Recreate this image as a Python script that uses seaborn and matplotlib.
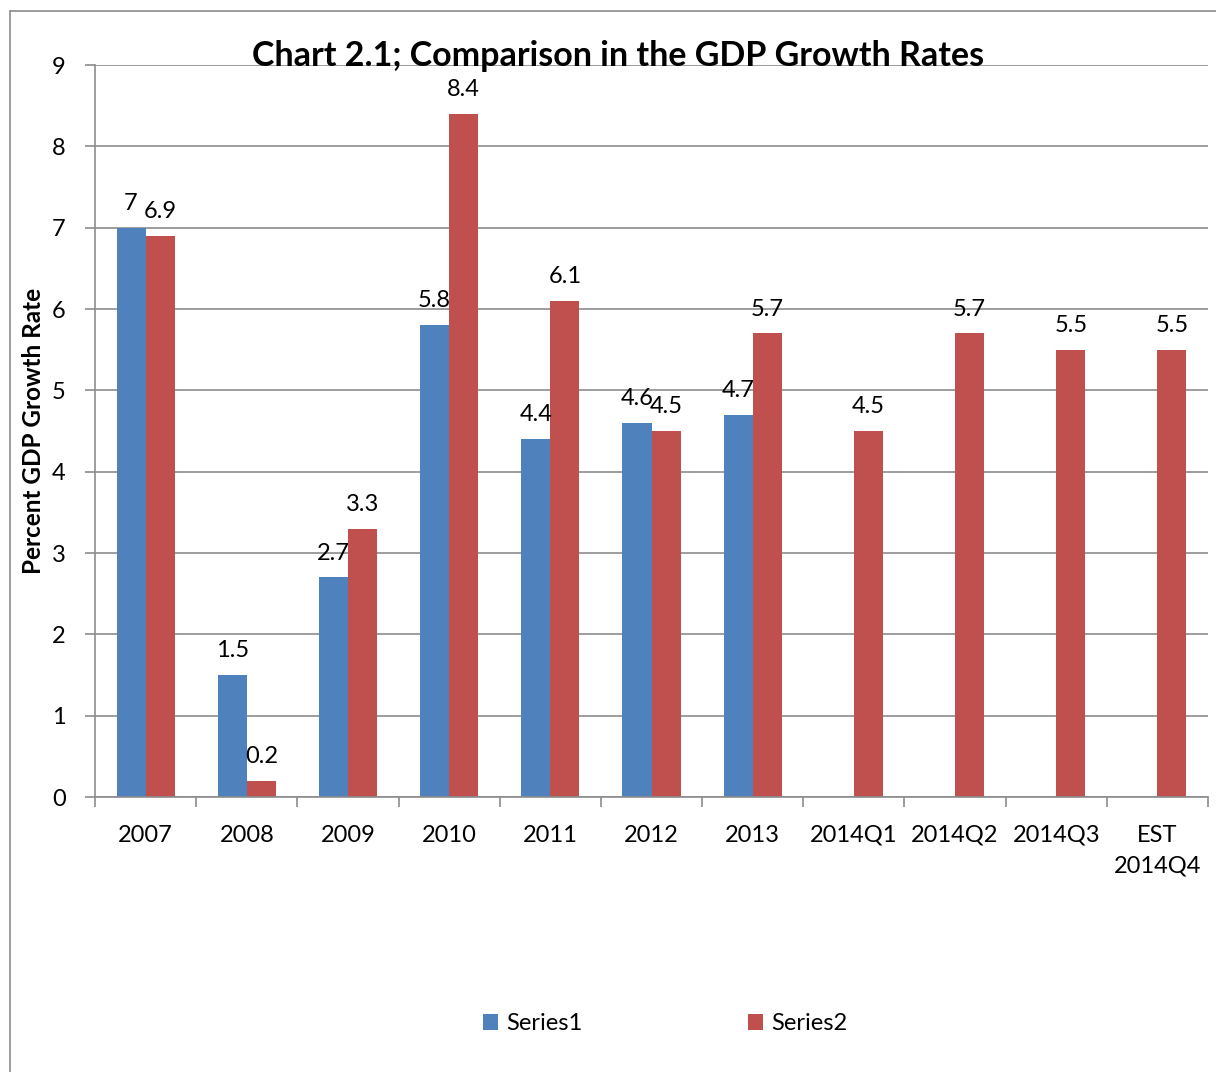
import numpy as np
import pandas as pd
import matplotlib
matplotlib.use("Agg")
import matplotlib.pyplot as plt
import seaborn as sns
from matplotlib.patches import Patch
from matplotlib.lines import Line2D

categories = ["2007", "2008", "2009", "2010", "2011", "2012", "2013",
              "2014Q1", "2014Q2", "2014Q3", "EST\n2014Q4"]
series1 = [7, 1.5, 2.7, 5.8, 4.4, 4.6, 4.7, np.nan, np.nan, np.nan, np.nan]
series2 = [6.9, 0.2, 3.3, 8.4, 6.1, 4.5, 5.7, 4.5, 5.7, 5.5, 5.5]
series_names = ["Series1", "Series2"]
colors = ["#4F81BD", "#C0504D"]

sns.set_style("white")
plt.rcParams['font.family'] = ['Lato', 'DejaVu Sans']
plt.rcParams['text.color'] = 'black'
plt.rcParams['axes.labelcolor'] = 'black'
plt.rcParams['xtick.labelcolor'] = 'black'
plt.rcParams['ytick.labelcolor'] = 'black'

df = pd.DataFrame({
    "Period": categories * 2,
    "Rate": series1 + series2,
    "Series": [series_names[0]] * len(categories) + [series_names[1]] * len(categories),
})

fig = plt.figure(figsize=(12.16, 10.72), dpi=100)
ax = fig.add_axes([95/1216, 275/1072, (1208-95)/1216, (797-65)/1072])

sns.barplot(data=df, x="Period", y="Rate", hue="Series", order=categories,
            hue_order=series_names, palette=colors, saturation=1,
            width=0.575, linewidth=0, ax=ax, legend=False, errorbar=None)

for cont in ax.containers:
    ax.bar_label(cont, fmt="%g", padding=10, fontsize=17, color="black")

ax.set_ylim(0, 9)
ax.set_xlim(-0.5, len(categories) - 0.5)
ax.set_yticks(range(0, 10))
ax.yaxis.grid(True, color="#8c8c8c", linewidth=1.2)
ax.set_axisbelow(True)
for s in ["top", "right"]:
    ax.spines[s].set_visible(False)
for s in ["left", "bottom"]:
    ax.spines[s].set_color("#8c8c8c")
    ax.spines[s].set_linewidth(1.2)

ax.tick_params(axis="y", which="major", length=7, width=1.2, color="#8c8c8c",
               labelcolor="black", labelsize=17, pad=14, left=True)
ax.set_xticks(range(len(categories)))
ax.set_xticklabels(categories, fontsize=17, linespacing=1.6)
ax.set_xticks(np.arange(-0.5, len(categories), 1), minor=True)
ax.tick_params(axis="x", which="major", length=0, pad=20, labelsize=17, labelcolor="black")
ax.tick_params(axis="x", which="minor", length=7, width=1.2, color="#8c8c8c", bottom=True)
for lab in ax.get_xticklabels():
    lab.set_verticalalignment("top")
ax.set_xlabel("")
ax.set_ylabel("Percent GDP Growth Rate", fontsize=17.5, fontweight="bold", labelpad=5,
              color="black")

fig.text(618/1216, 1 - 56/1072, "Chart 2.1; Comparison in the GDP Growth Rates",
         ha="center", va="center", fontsize=24.5, fontweight="bold", color="black")

handles = [Patch(facecolor=c, edgecolor="none", label=n) for c, n in zip(colors, series_names)]
fig.legend(handles=handles, loc="center", bbox_to_anchor=(665/1216, 1 - 1024/1072),
           ncol=2, frameon=False, fontsize=17, handlelength=0.65, handleheight=0.65,
           handletextpad=0.35, columnspacing=7, labelcolor="black")

# chart frame
fig.add_artist(Line2D([10/1216, 10/1216], [0, 1 - 11/1072], transform=fig.transFigure,
                      color="#8c8c8c", linewidth=1.2))
fig.add_artist(Line2D([10/1216, 1], [1 - 11/1072, 1 - 11/1072], transform=fig.transFigure,
                      color="#8c8c8c", linewidth=1.2))

fig.savefig("out.png", dpi=100)
